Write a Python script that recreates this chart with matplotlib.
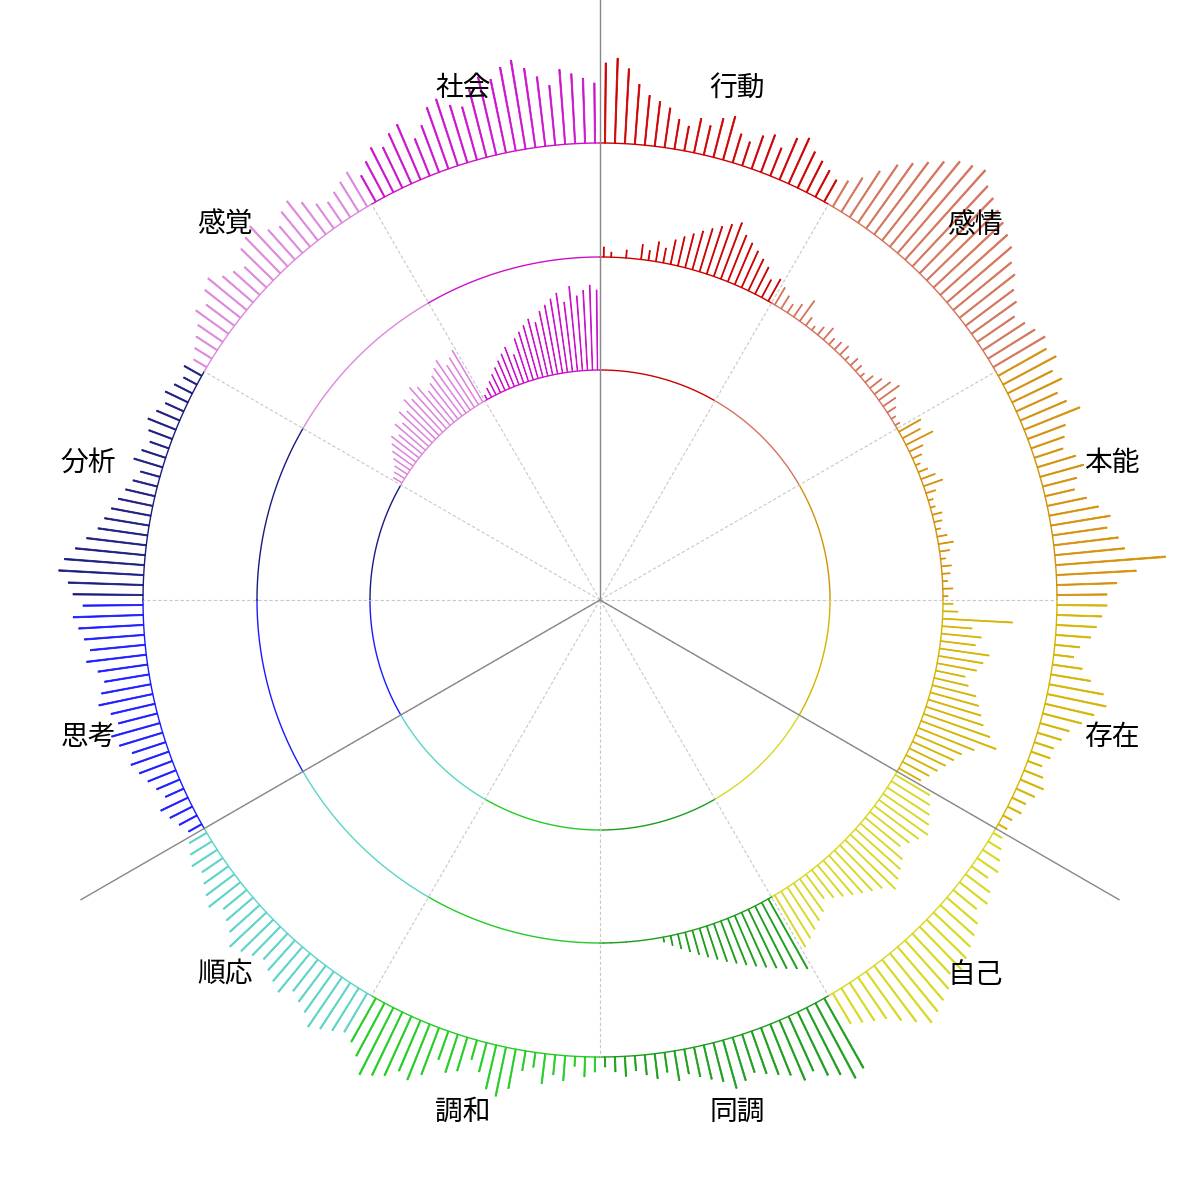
import numpy as np
import matplotlib
matplotlib.use("Agg")
import matplotlib.pyplot as plt

plt.rcParams['font.family'] = ['Noto Sans CJK JP', 'DejaVu Sans']

categories = ["行動", "感情", "本能", "存在", "自己", "同調", "調和", "順応", "思考", "分析", "感覚", "社会"]
colors = ["#cc0000", "#d4735a", "#d4900a", "#d4b400", "#d8d820", "#1a9e1a",
          "#22cc22", "#5ad4c8", "#1a1aff", "#1a1a80", "#dd88dd", "#cc11cc"]

outer_values = {
    "行動": [80,85,75,60,50,45,40,30,25,35,30,40,45,30,25,35,40,30,45,50,40,35,30,25],
    "感情": [30,40,55,70,80,90,100,110,115,120,110,105,100,95,90,85,75,70,60,55,45,50,55,60],
    "本能": [55,60,50,55,45,50,60,40,35,30,40,45,35,30,40,50,60,55,65,70,110,80,60,50],
    "存在": [50,45,40,35,25,20,30,40,55,60,50,40,30,25,20,20,15,20,25,20,15,15,10,10],
    "自己": [10,15,20,25,20,30,35,30,40,45,50,55,60,55,65,70,75,80,70,60,50,45,40,35],
    "同調": [80,85,75,70,60,65,55,50,45,40,45,50,40,35,30,25,30,20,25,20,15,20,15,10],
    "調和": [15,20,10,25,20,30,15,20,40,50,45,30,20,35,40,30,50,60,55,65,70,75,60,50],
    "順応": [45,50,55,60,50,45,40,50,45,40,35,40,45,50,40,35,30,40,35,30,25,30,25,20],
    "思考": [15,20,25,30,20,25,30,35,40,35,45,50,40,45,55,50,45,50,60,55,60,65,70,60],
    "分析": [70,75,85,80,70,60,50,45,40,35,30,25,20,30,25,20,25,30,25,20,25,20,15,20],
    "感覚": [15,20,25,30,40,35,45,50,40,35,30,45,50,55,40,35,45,50,40,30,25,30,35,40],
    "社会": [30,40,50,45,55,60,40,50,65,70,60,55,70,80,75,85,90,80,70,60,75,70,65,60],
}
middle_values = {
    "行動": [10,5,0,8,0,15,10,20,15,25,30,35,40,45,50,55,60,50,45,40,35,30,20,25],
    "感情": [20,15,10,15,25,10,5,10,15,8,10,12,5,10,8,5,10,15,20,25,15,10,5,5],
    "本能": [25,20,30,15,10,5,10,15,20,10,5,5,10,8,5,10,15,10,5,10,8,5,10,5],
    "存在": [10,15,70,30,40,35,50,45,40,30,35,45,50,55,60,70,80,60,50,45,40,35,30,25],
    "自己": [40,45,50,55,60,55,50,45,55,60,65,70,60,55,50,45,40,35,30,40,45,50,55,60],
    "同調": [80,75,70,65,60,55,50,45,40,35,30,25,20,15,10,5,0,0,0,0,0,0,0,0],
}
inner_values = {
    "感覚": [10,12,15,20,25,30,35,30,40,35,45,40,50,45,55,50,40,45,50,55,60,50,55,60],
    "社会": [5,10,15,20,25,30,35,40,30,45,50,55,60,55,65,70,75,80,70,85,75,80,85,80],
}

R_IN, R_MID, R_OUT = 230, 343, 457

fig = plt.figure(figsize=(12, 12), dpi=100)
ax = fig.add_axes([0, 0, 1, 1], projection="polar")
ax.set_theta_zero_location("N")
ax.set_theta_direction(-1)
ax.set_ylim(0, 600)
ax.axis("off")

def draw_ring(values, base):
    for i, cat in enumerate(categories):
        if cat not in values:
            continue
        v = np.array(values[cat], dtype=float)
        n = len(v)
        step = 30.0 / n
        th = np.deg2rad(30 * i + step * (np.arange(n) + 0.5))
        ax.bar(th, v, width=np.deg2rad(step * 0.12), bottom=base,
               color=colors[i], edgecolor=colors[i], linewidth=0.6)

draw_ring(outer_values, R_OUT)
draw_ring(middle_values, R_MID)
draw_ring(inner_values, R_IN)

for i in range(12):
    t = np.deg2rad(np.linspace(30 * i, 30 * (i + 1), 60))
    for r in (R_IN, R_MID, R_OUT):
        ax.plot(t, np.full_like(t, r), color=colors[i], lw=1)

for i in range(12):
    t = np.deg2rad(30 * i)
    ax.plot([t, t], [0, R_OUT], color="#c8c8c8", lw=0.8, ls=(0, (3, 2)))
for d in (0, 120, 240):
    t = np.deg2rad(d)
    ax.plot([t, t], [0, 600], color="#888888", lw=1)

for i, cat in enumerate(categories):
    t = np.deg2rad(30 * i + 15)
    ax.text(t, 530, cat, ha="center", va="center", fontsize=20, color="black", zorder=10)

fig.savefig("out.png", dpi=100)
